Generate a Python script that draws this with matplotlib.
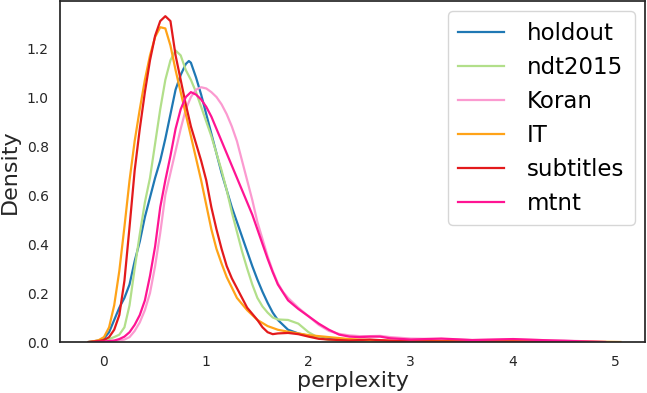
import numpy as np
import matplotlib
matplotlib.use("Agg")
import matplotlib.pyplot as plt

# --- values (perplexity, density) ---
holdout_x = [-0.15, -0.1, -0.05, 0.0, 0.05, 0.1, 0.15, 0.2, 0.25, 0.3, 0.35, 0.4, 0.45, 0.5, 0.55,
             0.6, 0.65, 0.7, 0.75, 0.8, 0.83, 0.85, 0.9, 0.95, 1.0, 1.05, 1.1, 1.15, 1.2, 1.25, 1.3,
             1.35, 1.4, 1.45, 1.5, 1.55, 1.6, 1.65, 1.7, 1.75, 1.8, 1.9, 2.0, 2.2, 2.4, 2.6, 3.0, 4.0, 4.5]
holdout_y = [0.0, 0.003, 0.006, 0.015, 0.04, 0.09, 0.14, 0.18, 0.235, 0.33, 0.41, 0.51, 0.59, 0.67, 0.74,
             0.83, 0.93, 1.03, 1.09, 1.135, 1.147, 1.14, 1.08, 1.01, 0.93, 0.85, 0.77, 0.69, 0.62, 0.55, 0.49,
             0.43, 0.37, 0.31, 0.255, 0.205, 0.16, 0.12, 0.09, 0.07, 0.05, 0.035, 0.025, 0.012, 0.006, 0.005, 0.003, 0.002, 0.0]

ndt_x = [-0.15, -0.05, 0.0, 0.05, 0.1, 0.15, 0.2, 0.25, 0.3, 0.35, 0.4, 0.45, 0.5, 0.55, 0.6, 0.65, 0.7,
         0.75, 0.8, 0.85, 0.9, 0.95, 1.0, 1.05, 1.1, 1.15, 1.2, 1.25, 1.3, 1.35, 1.4, 1.45, 1.5, 1.55,
         1.6, 1.65, 1.7, 1.8, 1.9, 2.0, 2.1, 2.2, 2.4, 3.0, 4.0, 4.5]
ndt_y = [0.0, 0.003, 0.006, 0.012, 0.02, 0.03, 0.06, 0.15, 0.3, 0.44, 0.57, 0.67, 0.81, 0.95, 1.07, 1.15, 1.19,
         1.17, 1.11, 1.07, 1.02, 0.96, 0.9, 0.84, 0.77, 0.7, 0.62, 0.53, 0.45, 0.37, 0.3, 0.235, 0.18, 0.145,
         0.12, 0.1, 0.092, 0.09, 0.075, 0.04, 0.017, 0.008, 0.005, 0.003, 0.002, 0.0]

koran_x = [-0.1, 0.0, 0.1, 0.2, 0.25, 0.3, 0.35, 0.4, 0.45, 0.5, 0.55, 0.6, 0.65, 0.7, 0.75, 0.8, 0.85,
           0.9, 0.95, 1.0, 1.05, 1.1, 1.15, 1.2, 1.25, 1.3, 1.35, 1.4, 1.45, 1.5, 1.55, 1.6, 1.65, 1.7,
           1.75, 1.8, 1.9, 2.0, 2.1, 2.2, 2.3, 2.4, 2.5, 2.6, 2.7, 2.8, 3.0, 3.3, 3.6, 4.0, 4.5, 4.9]
koran_y = [0.0, 0.001, 0.003, 0.01, 0.02, 0.045, 0.08, 0.13, 0.2, 0.31, 0.445, 0.6, 0.69, 0.78, 0.87, 0.95, 1.0,
           1.03, 1.04, 1.035, 1.02, 1.0, 0.97, 0.93, 0.88, 0.82, 0.74, 0.66, 0.58, 0.49, 0.42, 0.35, 0.29, 0.24,
           0.205, 0.18, 0.14, 0.105, 0.07, 0.045, 0.033, 0.027, 0.024, 0.024, 0.025, 0.02, 0.014, 0.012, 0.008, 0.01, 0.006, 0.0]

it_x = [-0.15, -0.1, -0.05, 0.0, 0.05, 0.1, 0.15, 0.2, 0.25, 0.3, 0.35, 0.4, 0.45, 0.5, 0.55, 0.6, 0.65,
        0.7, 0.75, 0.8, 0.85, 0.9, 0.95, 1.0, 1.05, 1.1, 1.15, 1.2, 1.3, 1.4, 1.5, 1.6, 1.7, 1.8, 1.9,
        2.0, 2.2, 2.4, 2.6, 2.8, 3.0, 3.5, 4.0, 4.5, 5.05]
it_y = [0.0, 0.003, 0.008, 0.02, 0.06, 0.15, 0.29, 0.47, 0.66, 0.82, 0.95, 1.07, 1.17, 1.245, 1.285, 1.28, 1.21,
        1.11, 1.02, 0.93, 0.84, 0.75, 0.66, 0.56, 0.46, 0.38, 0.32, 0.265, 0.18, 0.13, 0.09, 0.065, 0.05, 0.042, 0.035,
        0.028, 0.02, 0.012, 0.008, 0.006, 0.005, 0.004, 0.005, 0.003, 0.0]

sub_x = [-0.15, -0.1, -0.05, 0.0, 0.05, 0.1, 0.15, 0.2, 0.25, 0.3, 0.35, 0.4, 0.45, 0.5, 0.55, 0.6, 0.65,
         0.7, 0.75, 0.8, 0.85, 0.9, 0.95, 1.0, 1.05, 1.1, 1.15, 1.2, 1.25, 1.3, 1.4, 1.5, 1.55, 1.6, 1.65,
         1.7, 1.8, 1.9, 2.0, 2.1, 2.2, 2.4, 2.6, 2.8, 3.0, 3.5, 4.0, 4.5]
sub_y = [0.0, 0.002, 0.004, 0.008, 0.02, 0.05, 0.11, 0.25, 0.47, 0.7, 0.87, 1.02, 1.15, 1.25, 1.31, 1.33, 1.31,
         1.17, 1.07, 0.97, 0.88, 0.81, 0.74, 0.66, 0.55, 0.46, 0.38, 0.31, 0.26, 0.22, 0.14, 0.09, 0.06, 0.04, 0.032,
         0.035, 0.037, 0.032, 0.022, 0.013, 0.01, 0.006, 0.01, 0.005, 0.003, 0.002, 0.002, 0.0]

mtnt_x = [-0.1, 0.0, 0.1, 0.15, 0.2, 0.25, 0.3, 0.35, 0.4, 0.45, 0.5, 0.55, 0.6, 0.65, 0.7, 0.75, 0.8,
          0.85, 0.9, 0.95, 1.0, 1.05, 1.1, 1.15, 1.2, 1.25, 1.3, 1.35, 1.4, 1.45, 1.5, 1.55, 1.6, 1.65,
          1.7, 1.8, 1.9, 2.0, 2.1, 2.2, 2.3, 2.4, 2.5, 2.6, 2.7, 2.8, 3.0, 3.3, 3.6, 4.0, 4.4, 4.9]
mtnt_y = [0.0, 0.002, 0.006, 0.012, 0.022, 0.04, 0.07, 0.11, 0.17, 0.27, 0.39, 0.55, 0.66, 0.76, 0.87, 0.95, 1.0,
          1.02, 1.01, 0.99, 0.96, 0.92, 0.87, 0.82, 0.77, 0.72, 0.67, 0.62, 0.57, 0.52, 0.46, 0.4, 0.34, 0.285,
          0.235, 0.17, 0.135, 0.105, 0.075, 0.05, 0.03, 0.022, 0.02, 0.022, 0.022, 0.015, 0.01, 0.014, 0.008, 0.012, 0.006, 0.0]

names = ["holdout", "ndt2015", "Koran", "IT", "subtitles", "mtnt"]
xs = [holdout_x, ndt_x, koran_x, it_x, sub_x, mtnt_x]
ys = [holdout_y, ndt_y, koran_y, it_y, sub_y, mtnt_y]
colors = ["#1f78b4", "#b2df8a", "#fb9ad0", "#ffa318", "#e31a1c", "#ff1493"]

fig = plt.figure(figsize=(6.47, 3.93), dpi=100)
ax = fig.add_axes([60 / 647, 51 / 393, 585 / 647, 341 / 393])

for x, y, c, n in zip(xs, ys, colors, names):
    ax.plot(x, y, color=c, lw=1.6, label=n)

ax.set_xlim(-0.43, 5.29)
ax.set_ylim(0, 1.392)
ax.set_xticks([0, 1, 2, 3, 4, 5])
ax.set_yticks([0.0, 0.2, 0.4, 0.6, 0.8, 1.0, 1.2])
ax.tick_params(length=0, labelsize=10, colors="#262626")
ax.tick_params(axis="x", pad=9)
ax.tick_params(axis="y", pad=8)
for s in ax.spines.values():
    s.set_color("#262626")
    s.set_linewidth(1.25)

ax.set_xlabel("perplexity", fontsize=16, color="#262626", labelpad=2)
ax.set_ylabel("Density", fontsize=16, color="#262626", labelpad=5)

# legend box sits about 10px inside the top-right corner
leg = ax.legend(loc="upper right", fontsize=16.5, frameon=True, handlelength=2.0,
                borderpad=0.45, labelspacing=0.48, handletextpad=1.0,
                borderaxespad=0.45)
leg.get_frame().set_edgecolor("#cccccc")

fig.savefig("out.png", dpi=100)
